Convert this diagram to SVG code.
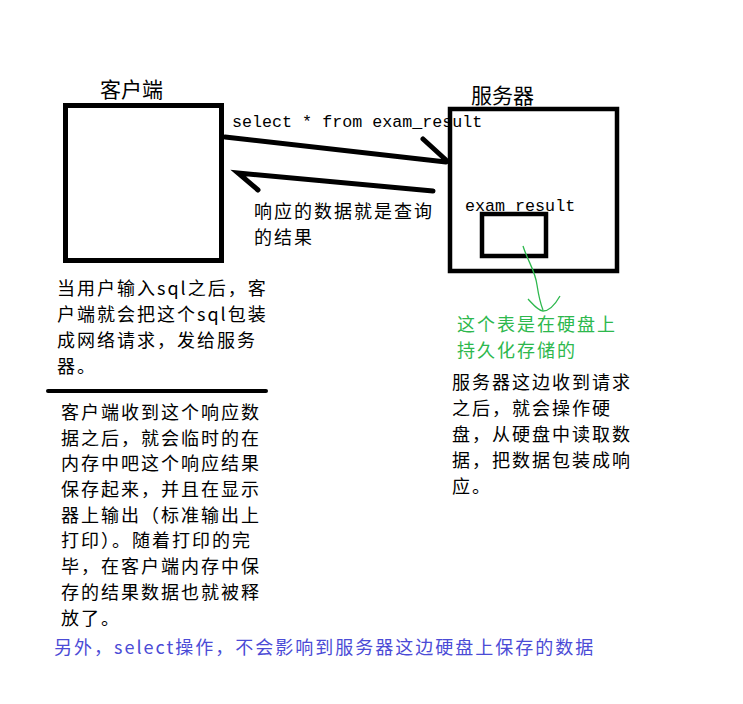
<svg xmlns="http://www.w3.org/2000/svg" width="743" height="704" viewBox="0 0 743 704">
<style>
.cjk{font-family:"Noto Sans CJK SC","Liberation Sans",sans-serif;font-size:18px;letter-spacing:2px;fill:#000}
.lbl{font-size:21px;letter-spacing:0}
.mono{font-family:"Liberation Mono","DejaVu Sans Mono",monospace;font-size:16.7px;fill:#000}
.box{fill:none;stroke:#000}
.conn{fill:none;stroke:#000;stroke-width:5;stroke-linecap:round}
.green{fill:#2db84d}
.blue{fill:#4b4bd6}
</style>
<rect width="743" height="704" fill="#fff"/>
<g id="client">
<rect class="box" x="65.5" y="105.5" width="156" height="155" stroke-width="5"/>
<text class="cjk lbl" x="100" y="97">客户端</text>
</g>
<g id="server">
<text class="mono" x="465" y="211">exam_result</text>
<rect class="box" x="450" y="109" width="167" height="162" stroke-width="4.5"/>
<text class="cjk lbl" x="471" y="103">服务器</text>
</g>
<g id="table">
<rect class="box" x="482" y="214" width="64" height="42" stroke-width="4.5"/>
</g>
<g id="connectors">
<path class="conn" d="M225,137 L446,162 M423,139 L446,160"/>
<path class="conn" d="M433,191 L238,173 L258,190"/>
<path d="M523,246 C528,262 535,270 537,285 C539,298 541,305 543,310 M528,299 C533,304 537,310 543,311 C550,311 556,303 560,296" fill="none" stroke="#2db84d" stroke-width="1.3"/>
<line x1="48" y1="391" x2="266" y2="391" stroke="#000" stroke-width="4" stroke-linecap="round"/>
</g>
<g id="labels">
<text class="mono" x="232" y="127">select * from exam_result</text>
<text class="cjk" x="254" y="218">响应的数据就是查询</text>
<text class="cjk" x="254" y="244">的结果</text>
<text class="cjk green" x="457" y="331">这个表是在硬盘上</text>
<text class="cjk green" x="457" y="357">持久化存储的</text>
<text class="cjk" x="452" y="389">服务器这边收到请求</text>
<text class="cjk" x="452" y="415">之后，就会操作硬</text>
<text class="cjk" x="452" y="441">盘，从硬盘中读取数</text>
<text class="cjk" x="452" y="467">据，把数据包装成响</text>
<text class="cjk" x="452" y="493">应。</text>
<text class="cjk" x="57" y="295">当用户输入sql之后，客</text>
<text class="cjk" x="57" y="321">户端就会把这个sql包装</text>
<text class="cjk" x="57" y="347">成网络请求，发给服务</text>
<text class="cjk" x="57" y="373">器。</text>
<text class="cjk" x="61" y="419">客户端收到这个响应数</text>
<text class="cjk" x="61" y="445">据之后，就会临时的在</text>
<text class="cjk" x="61" y="470">内存中吧这个响应结果</text>
<text class="cjk" x="61" y="496">保存起来，并且在显示</text>
<text class="cjk" x="61" y="522">器上输出（标准输出上</text>
<text class="cjk" x="61" y="547">打印）。随着打印的完</text>
<text class="cjk" x="61" y="573">毕，在客户端内存中保</text>
<text class="cjk" x="61" y="599">存的结果数据也就被释</text>
<text class="cjk" x="61" y="625">放了。</text>
<text class="cjk blue" x="54" y="654">另外，select操作，不会影响到服务器这边硬盘上保存的数据</text>
</g>
</svg>
